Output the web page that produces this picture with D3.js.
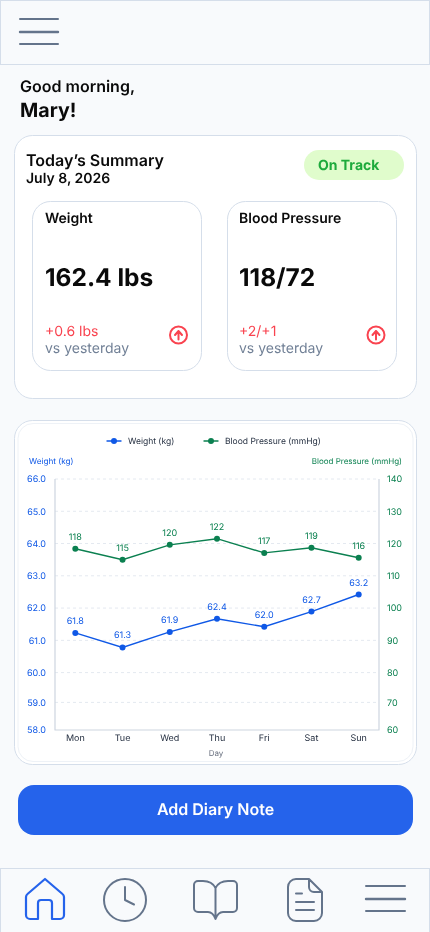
<!DOCTYPE html>
<html>
<head>
<meta charset="utf-8">
<script src="https://cdn.jsdelivr.net/npm/d3@7"></script>
<style>
  html, body { margin: 0; padding: 0; background: #f8fafc; }
  svg { display: block; will-change: transform; }
  text { font-family: Inter, "Noto Sans", sans-serif; text-rendering: geometricPrecision; }
  .axis path, .axis line { display: none; }
</style>
</head>
<body>
<div id="main"></div>
<script>
const days = ['Mon', 'Tue', 'Wed', 'Thu', 'Fri', 'Sat', 'Sun'];

// heights; the printed labels in the picture differ from them
const weightValues = [61.23, 60.78, 61.26, 61.67, 61.42, 61.89, 62.42];
const weightLabels = ['61.8', '61.3', '61.9', '62.4', '62.0', '62.7', '63.2'];
const bpValues = [118.4, 115, 119.6, 121.5, 117.1, 118.7, 115.6];
const bpLabels = ['118', '115', '120', '122', '117', '119', '116'];

const weightTicks = [58, 59, 60, 61, 62, 63, 64, 65, 66];
const bpTicks = [60, 70, 80, 90, 100, 110, 120, 130, 140];

const blue = '#0f58e6', green = '#0b8050', slate = '#64748b', edge = '#d5deea', red = '#f9434f';

const svg = d3.select('#main').append('svg').attr('width', 430).attr('height', 932);

function rect(x, y, w, h, r, fill, stroke) {
    return svg.append('rect').attr('x', x).attr('y', y).attr('width', w).attr('height', h)
        .attr('rx', r).attr('fill', fill).attr('stroke', stroke || 'none');
}
function label(str, x, y, size, weight, fill, anchor) {
    return svg.append('text').attr('x', x).attr('y', y).text(str)
        .attr('font-size', size).attr('font-weight', weight).attr('fill', fill)
        .attr('text-anchor', anchor || 'start');
}
function icon(d, stroke, width) {
    return svg.append('path').attr('d', d).attr('fill', 'none').attr('stroke', stroke)
        .attr('stroke-width', width || 2).attr('stroke-linecap', 'round').attr('stroke-linejoin', 'round');
}
function burger(x0, x1, ys) {
    ys.forEach((y, i) => icon(`M${x0} ${y}H${x1}`, slate, i == 1 ? 2.4 : 2));
}

// header
rect(0.5, 0.5, 429, 64, 0, '#f8fafc', edge);
burger(20, 58, [19, 32, 44]);
label('Good morning,', 20, 92, 16, 600, '#0a0a0a');
label('Mary!', 20, 117, 19.6, 700, '#0a0a0a');

// summary card
rect(14.5, 135.5, 402, 263, 18, '#fff', edge);
label('Today\u2019s Summary', 26, 166, 16, 600, '#0a0a0a');
label('July 8, 2026', 26, 183, 14, 600, '#0a0a0a');
rect(304, 150, 100, 30, 15, '#e0fccc');
label('On Track', 318, 170, 14, 700, '#1eaa3c');

function tile(x, textX, iconX, title, value, change) {
    rect(x + 0.5, 201.5, 169, 169, 18, '#fff', edge);
    label(title, textX, 223, 14, 600, '#0a0a0a');
    label(value, textX, 286, 24.5, 700, '#0a0a0a');
    label(change, textX, 336, 14, 400, red);
    label('vs yesterday', textX, 353, 14, 400, '#718096');
    const cy = 335;
    svg.append('circle').attr('cx', iconX).attr('cy', cy).attr('r', 8.5)
        .attr('fill', 'none').attr('stroke', red).attr('stroke-width', 2);
    icon(`M${iconX} ${cy + 4.5}V${cy - 4}M${iconX - 3.5} ${cy}L${iconX} ${cy - 4}L${iconX + 3.5} ${cy}`, red, 2);
}
tile(32, 45, 178.5, 'Weight', '162.4 lbs', '+0.6 lbs');
tile(227, 239, 376, 'Blood Pressure', '118/72', '+2/+1');

// chart card
rect(14.5, 420.5, 402, 344, 18, '#fff', edge);
rect(18, 423.5, 395, 338, 15, '#fff', '#eef2f7');

const x = d3.scalePoint().domain(days).range([55, 379]).padding(0.43);
// the bottom two bands of the reference axis are a bit shorter than the rest
const yLeft = d3.scaleLinear().domain([58, 59, 60, 66]).range([730, 702.4, 672.6, 479]);
const yRight = d3.scaleLinear().domain([60, 70, 80, 140]).range([730, 702.4, 672.6, 479]);

svg.append('g').selectAll('line').data(weightTicks.slice(1)).join('line')
    .attr('x1', 55).attr('x2', 379)
    .attr('y1', d => yLeft(d)).attr('y2', d => yLeft(d))
    .attr('stroke', '#e4e9f0').attr('stroke-dasharray', '3,3');

icon('M55 479V730H379V479', '#cdd5e0', 1.2).attr('stroke-linecap', 'butt');

const axisLeft = svg.append('g').attr('class', 'axis').attr('transform', 'translate(46,0)')
    .call(d3.axisLeft(yLeft).tickValues(weightTicks).tickFormat(d3.format('.1f')).tickSize(0).tickPadding(0));
axisLeft.selectAll('text').attr('font-size', 9).attr('fill', blue);

const axisRight = svg.append('g').attr('class', 'axis').attr('transform', 'translate(387,0)')
    .call(d3.axisRight(yRight).tickValues(bpTicks).tickSize(0).tickPadding(0));
axisRight.selectAll('text').attr('font-size', 9).attr('fill', green);

const axisBottom = svg.append('g').attr('class', 'axis').attr('transform', 'translate(0,730)')
    .call(d3.axisBottom(x).tickSize(0).tickPadding(5));
axisBottom.selectAll('text').attr('font-size', 9).attr('fill', '#1e293b').attr('dx', -0.5);

label('Day', 216, 756, 8, 400, '#6b7280', 'middle');
label('Weight (kg)', 29, 464, 8.2, 400, blue);
label('Blood Pressure (mmHg)', 402, 464, 8, 400, green, 'end');

function series(values, labels, scale, color) {
    const line = d3.line().x((d, i) => x(days[i])).y(d => scale(d));
    svg.append('path').datum(values).attr('d', line)
        .attr('fill', 'none').attr('stroke', color).attr('stroke-width', 1.4);
    svg.append('g').selectAll('circle').data(values).join('circle')
        .attr('cx', (d, i) => x(days[i])).attr('cy', d => scale(d)).attr('r', 3).attr('fill', color);
    svg.append('g').selectAll('text').data(values).join('text')
        .attr('x', (d, i) => x(days[i])).attr('y', d => scale(d) - 9)
        .attr('text-anchor', 'middle').attr('font-size', 9).attr('fill', color)
        .text((d, i) => labels[i]);
}
series(bpValues, bpLabels, yRight, green);
series(weightValues, weightLabels, yLeft, blue);

function legend(x0, str, color) {
    icon(`M${x0} 441H${x0 + 14}`, color, 1.4);
    svg.append('circle').attr('cx', x0 + 7).attr('cy', 441).attr('r', 3).attr('fill', color);
    label(str, x0 + 21, 444, 8.5, 400, '#1e293b');
}
legend(107, 'Weight (kg)', blue);
legend(204, 'Blood Pressure (mmHg)', green);

// button
rect(18, 785, 395, 50, 16, '#2563eb');
label('Add Diary Note', 215.5, 815, 16, 600, '#fff', 'middle');

// bottom nav
rect(0.5, 868.5, 429, 64, 0, '#f8fafc', edge);
icon('M38 919H30a4 4 0 0 1-4-4V897a4 4 0 0 1 1.5-3L45 879L62.5 894a4 4 0 0 1 1.5 3V915a4 4 0 0 1-4 4H52V903a3 3 0 0 0-3-3H41a3 3 0 0 0-3 3Z', '#2563eb', 2.2);
svg.append('circle').attr('cx', 125).attr('cy', 900).attr('r', 21)
    .attr('fill', 'none').attr('stroke', slate).attr('stroke-width', 2);
icon('M125 887V900L134 904.5', slate, 2);
icon('M215.5 888C213 883 208 881 203 881H198a4 4 0 0 0-4 4V908a4 4 0 0 0 4 4H208C212 912 214 915 215.5 919C217 915 219 912 223 912H233a4 4 0 0 0 4-4V885a4 4 0 0 0-4-4H228C223 881 218 883 215.5 888V919', slate, 2);
icon('M309 879H296a8 8 0 0 0-8 8V913a8 8 0 0 0 8 8H314a8 8 0 0 0 8-8V892ZM309 879V887a5 5 0 0 0 5 5H322M296 893.5H302M296 902H314M296 910H314', slate, 2);
burger(366, 405, [886, 899, 911]);
</script>
</body>
</html>
